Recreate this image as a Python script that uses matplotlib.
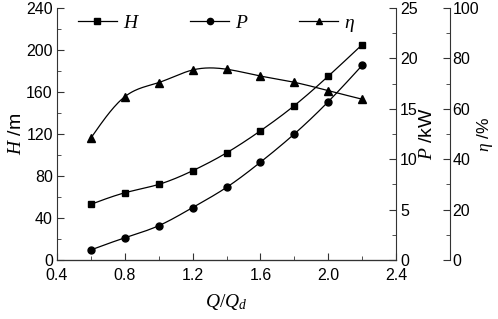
import numpy as np
import matplotlib
matplotlib.use("Agg")
import matplotlib.pyplot as plt
from matplotlib.ticker import MultipleLocator, FormatStrFormatter

plt.rcParams["font.family"] = ["Liberation Sans", "DejaVu Sans"]
plt.rcParams["mathtext.fontset"] = "custom"
plt.rcParams["mathtext.rm"] = "Liberation Serif"
plt.rcParams["mathtext.it"] = "Liberation Serif:italic"

q = [0.6, 0.8, 1.0, 1.2, 1.4, 1.6, 1.8, 2.0, 2.2]
head = [53, 64, 72, 85, 102, 123, 147, 175, 205]
power = [1.0, 2.2, 3.4, 5.2, 7.2, 9.7, 12.5, 15.7, 19.3]
eff = [48.4, 64.8, 70.4, 75.4, 75.7, 73.0, 70.5, 67.2, 63.8]


def smooth(x, y, n=200):
    # natural cubic spline, only used to draw the connecting line
    x = np.asarray(x, float)
    y = np.asarray(y, float)
    k = len(x)
    h = np.diff(x)
    A = np.zeros((k, k))
    b = np.zeros(k)
    A[0, 0] = A[-1, -1] = 1
    for i in range(1, k - 1):
        A[i, i - 1] = h[i - 1]
        A[i, i] = 2 * (h[i - 1] + h[i])
        A[i, i + 1] = h[i]
        b[i] = 6 * ((y[i + 1] - y[i]) / h[i] - (y[i] - y[i - 1]) / h[i - 1])
    m = np.linalg.solve(A, b)
    xs = np.linspace(x[0], x[-1], n)
    idx = np.clip(np.searchsorted(x, xs) - 1, 0, k - 2)
    t = xs - x[idx]
    hi = h[idx]
    a = y[idx]
    bb = (y[idx + 1] - y[idx]) / hi - hi * (2 * m[idx] + m[idx + 1]) / 6
    c = m[idx] / 2
    d = (m[idx + 1] - m[idx]) / (6 * hi)
    return xs, a + bb * t + c * t ** 2 + d * t ** 3


fig = plt.figure(figsize=(4.98, 3.19), dpi=100)
ax = fig.add_axes([0.1145, 0.185, 0.6807, 0.79])
ax2 = ax.twinx()
ax3 = ax.twinx()
ax3.spines["right"].set_position(("axes", 1.158))

spc = "#333333"
for a in (ax, ax2, ax3):
    a.spines["top"].set_visible(False)
    for s in a.spines.values():
        s.set_color(spc)
ax.spines["right"].set_visible(False)
ax3.spines["left"].set_visible(False)
ax2.spines["left"].set_visible(False)

lw = 0.9
xs, ys = smooth(q, head)
ax.plot(xs, ys, color="black", lw=lw)
ax.plot(q, head, "s", color="black", ms=4.5)
xs, ys = smooth(q, power)
ax2.plot(xs, ys, color="black", lw=lw)
ax2.plot(q, power, "o", color="black", ms=5)
xs, ys = smooth(q, eff)
ax3.plot(xs, ys, color="black", lw=lw)
ax3.plot(q, eff, "^", color="black", ms=5.5)

# legend proxies
hH, = ax.plot([], [], "-s", color="black", lw=lw, ms=4)
hP, = ax.plot([], [], "-o", color="black", lw=lw, ms=4.5)
hE, = ax.plot([], [], "-^", color="black", lw=lw, ms=5)
ax.legend([hH, hP, hE], ["$H$", "$P$", r"$\eta$"], ncol=3, frameon=False,
          loc="upper left", bbox_to_anchor=(0.01, 1.045), columnspacing=2.6,
          handlelength=2.0, handletextpad=0.3, prop={"size": 14})

ax.set_xlim(0.4, 2.4)
ax.set_ylim(0, 240)
ax2.set_ylim(0, 25)
ax3.set_ylim(0, 100)

ax.xaxis.set_major_locator(MultipleLocator(0.4))
ax.xaxis.set_minor_locator(MultipleLocator(0.2))
ax.xaxis.set_major_formatter(FormatStrFormatter("%.1f"))
ax.yaxis.set_major_locator(MultipleLocator(40))
ax.yaxis.set_minor_locator(MultipleLocator(20))
ax2.yaxis.set_major_locator(MultipleLocator(5))
ax2.yaxis.set_minor_locator(MultipleLocator(2.5))
ax3.yaxis.set_major_locator(MultipleLocator(20))
ax3.yaxis.set_minor_locator(MultipleLocator(10))

for a in (ax, ax2, ax3):
    a.tick_params(which="both", direction="in", labelsize=11.5, color=spc, pad=3)
    a.tick_params(which="major", length=5)
    a.tick_params(which="minor", length=3)
ax.tick_params(axis="x", which="both", top=False, pad=6)
ax3.tick_params(axis="y", pad=2)

ax.set_xlabel("$Q/Q_d$", fontsize=14, labelpad=6)
ax.set_ylabel("$H$ /m", fontsize=14, labelpad=1)
ax2.set_ylabel("$P$ /kW", fontsize=14, labelpad=1)
ax3.set_ylabel(r"$\eta$ /%", fontsize=12.5, labelpad=-3)

fig.savefig("out.png", dpi=100)
